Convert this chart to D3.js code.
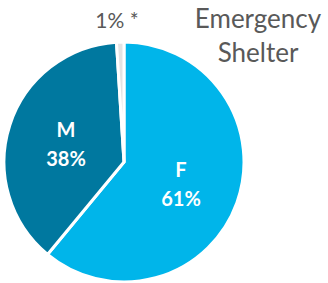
<!DOCTYPE html>
<html>
<head>
<meta charset="utf-8">
<script src="https://cdn.jsdelivr.net/npm/d3@7"></script>
<style>
html,body{margin:0;padding:0;background:#fff;}
svg{display:block;}
</style>
</head>
<body>
<svg id="chart" width="328" height="283"></svg>
<script>
const categories = ["F", "M", "*"];
const values = [61, 38, 1];
const valueLabels = ["61%", "38%", "1% *"];
const colors = ["#00B5EA", "#00789F", "#E3E3E3"];
const titleLines = ["Emergency", "Shelter"];

const svg = d3.select("#chart");
const cx = 124, cy = 162, r = 120;
const g = svg.append("g").attr("transform", `translate(${cx},${cy})`);

const pie = d3.pie().sort(null).value(d => d);
const arcs = pie(values);
const arc = d3.arc().innerRadius(0).outerRadius(r);

g.selectAll("path").data(arcs).join("path")
  .attr("d", arc)
  .attr("fill", (d, i) => colors[i])
  .attr("stroke", "#fff")
  .attr("stroke-width", 3)
  .attr("stroke-linejoin", "round");

const font = "Lato, 'Open Sans', sans-serif";

// Inside labels for F and M
const inside = [
  { i: 0, x: 181, y: 177 },
  { i: 1, x: 66, y: 137 }
];
inside.forEach(o => {
  const t = g.append("text")
    .attr("x", o.x - cx).attr("y", o.y - cy)
    .attr("text-anchor", "middle")
    .attr("font-family", font).attr("font-weight", "bold")
    .attr("font-size", 20).attr("fill", "#fff");
  t.append("tspan").attr("x", o.x - cx).text(categories[o.i]);
  t.append("tspan").attr("x", o.x - cx).attr("dy", 29).text(valueLabels[o.i]);
});

// Outside small label
svg.append("text")
  .attr("x", 117).attr("y", 28)
  .attr("text-anchor", "middle")
  .attr("font-family", font).attr("font-size", 21)
  .attr("fill", "#595959")
  .text(valueLabels[2]);

// Title
svg.selectAll("text.title").data(titleLines).join("text")
  .attr("class", "title")
  .attr("x", 258).attr("y", (d, i) => 28 + i * 34)
  .attr("text-anchor", "middle")
  .attr("font-family", font).attr("font-size", 26)
  .attr("fill", "#595959")
  .text(d => d);
</script>
</body>
</html>
